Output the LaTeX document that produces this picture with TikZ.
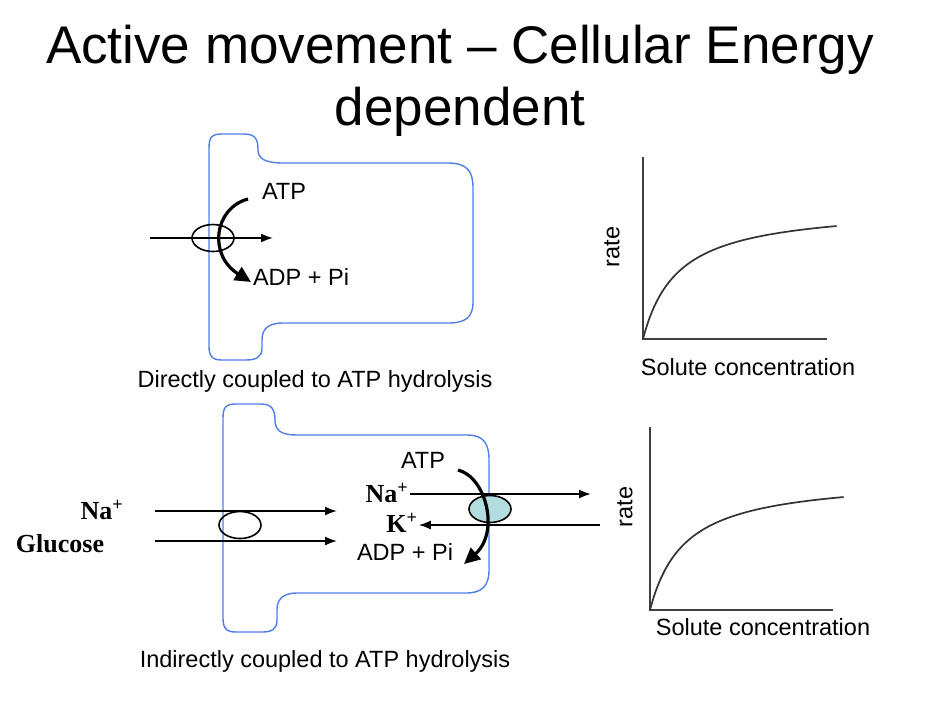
\documentclass[tikz,border=0pt]{standalone}
\usepackage{fontspec}
\setmainfont{Liberation Sans}
\newfontfamily\timesfont{Liberation Serif}
\usepackage{xcolor}
\usepackage{tikz}
\usetikzlibrary{arrows.meta,positioning,shapes.geometric}
\definecolor{wallblue}{RGB}{80,125,235}
\definecolor{pumpfill}{RGB}{178,220,222}

\begin{document}
\begin{tikzpicture}[x=1pt, y=-1pt,
    lbl/.style={inner sep=1pt, font=\fontsize{23.5}{27}\selectfont},
    ion/.style={inner sep=1pt, font=\timesfont\bfseries\fontsize{26}{29}\selectfont},
    cellwall/.style={draw=wallblue, line width=1.4pt},
    carrier/.style={draw, line width=1.6pt, minimum width=42pt, minimum height=27pt, ellipse, inner sep=0pt},
    arr/.style={-{Latex[length=12pt, width=9pt]}, line width=1.8pt},
    atparr/.style={-{Triangle[length=16pt, width=15pt]}, line width=3.2pt},
    axis/.style={line width=2pt, black!75},
    curve/.style={line width=1.7pt, black!80}
]
\useasboundingbox (0,0) rectangle (952,716);
\node[font=\fontsize{53}{62}\selectfont, align=center] (title) at (460,81) {Active movement -- Cellular Energy\\dependent};

\draw[cellwall] (209,148) .. controls (209,137) and (212,134) .. (222,134) -- (244,134) .. controls (256,134) and (258,140) .. (258,150) .. controls (258,159) and (266,163) .. (283,163) -- (448,163) .. controls (467,163) and (473,171) .. (473,188) -- (473,302) .. controls (473,317) and (466,323) .. (448,323) -- (283,323) .. controls (267,323) and (262,330) .. (262,340) -- (262,348) .. controls (262,357) and (256,360) .. (246,360) -- (222,360) .. controls (212,360) and (209,356) .. (209,346) -- cycle;
\node[carrier] (carrierA) at (213,238) {};
\coordinate (inA) at (150,238);
\coordinate (outA) at (273,238);
\draw[arr] (inA) -- (outA);
\node[lbl] (atpA) at (284,191) {ATP};
\node[lbl] (adpA) at (301,277) {ADP + Pi};
\coordinate (atpAstart) at (248,199);
\coordinate (adpAend) at (251,282);
\draw[atparr] (atpAstart) .. controls (214,208) and (208,255) .. (adpAend);
\node[lbl] (capA) at (315,381) {Directly coupled to ATP hydrolysis};

\draw[cellwall] (223,418) .. controls (223,407) and (226,404) .. (236,404) -- (261,404) .. controls (272,404) and (275,410) .. (275,420) .. controls (275,431) and (282,435) .. (297,435) -- (467,435) .. controls (484,435) and (489,444) .. (489,460) -- (489,570) .. controls (489,586) and (482,593) .. (466,593) -- (297,593) .. controls (282,593) and (277,600) .. (277,610) -- (277,620) .. controls (277,629) and (272,632) .. (262,632) -- (236,632) .. controls (226,632) and (223,628) .. (223,618) -- cycle;
\node[carrier] (carrierB) at (240,525) {};
\node[carrier, fill=pumpfill] (pumpB) at (490,509) {};
\node[ion] (naB) at (102,510) {Na\textsuperscript{+}};
\node[ion] (glcB) at (60,544) {Glucose};
\coordinate (naBin) at (155,511);
\coordinate (naBout) at (337,511);
\coordinate (glcBin) at (155,541);
\coordinate (glcBout) at (337,541);
\draw[arr] (naBin) -- (naBout);
\draw[arr] (glcBin) -- (glcBout);
\node[lbl] (atpB) at (423,460) {ATP};
\node[ion] (naR) at (387,493) {Na\textsuperscript{+}};
\node[ion] (kR) at (402,523) {K\textsuperscript{+}};
\node[lbl] (adpB) at (405,552) {ADP + Pi};
\coordinate (naRout) at (591,494);
\coordinate (kRin) at (600,525);
\draw[arr] (naR.east |- naRout) -- (naRout);
\draw[arr] (kRin) -- (kR.east |- kRin);
\coordinate (atpBstart) at (458,470);
\coordinate (adpBend) at (464,564);
\draw[atparr] (atpBstart) .. controls (486,477) and (500,532) .. (adpBend);
\node[lbl] (capB) at (325,661) {Indirectly coupled to ATP hydrolysis};

\coordinate (oA) at (643,339);
\draw[axis] (643,157) -- (oA) -- (827,339);
\draw[curve] plot[domain=0:1, samples=150] ({643+194*\x}, {339-113*1.18*\x/(0.18+\x)});
\node[lbl, rotate=90] (rateA) at (612,247) {rate};
\node[lbl] (solA) at (748,367) {Solute concentration};

\coordinate (oB) at (650,610);
\draw[axis] (650,427) -- (oB) -- (833,610);
\draw[curve] plot[domain=0:1, samples=150] ({650+194*\x}, {610-113*1.18*\x/(0.18+\x)});
\node[lbl, rotate=90] (rateB) at (625,507) {rate};
\node[lbl] (solB) at (763,627) {Solute concentration};
\end{tikzpicture}
\end{document}
